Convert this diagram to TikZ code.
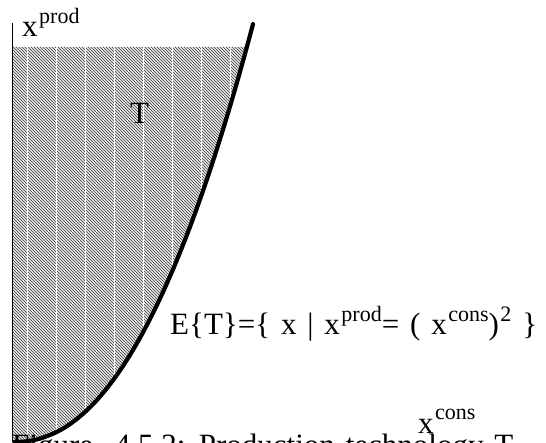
\documentclass[tikz,border=0pt]{standalone}
\usepackage{fontspec}
\setmainfont[WordSpace=1.4]{Liberation Serif}
\newcommand{\supx}[1]{\kern1.5pt\raisebox{0.42em}{\fontsize{22}{22}\selectfont #1}}

\begin{document}
\begin{tikzpicture}[x=1pt, y=1pt,
  lbl/.style={inner sep=0pt, anchor=base west,
              font=\fontsize{31}{37}\selectfont},
  hatch/.style={draw=black!65, line width=1pt},
  seam/.style={draw=white, line width=1pt},
  frontier/.style={line width=4.2pt, line cap=round}
]
\useasboundingbox (0,0) rectangle (546,442);

% Axis
\coordinate (origin) at (12.5,0);
\coordinate (ytop)   at (12.5,419);

% Production set, hatched
\begin{scope}
  \clip (12.5,0) -- (12.5,395) -- (246.9,395)
        -- plot[domain=232.9:0.5, samples=60] ({14+\x},{418*(\x/239)^2.17})
        -- cycle;
  \foreach \i in {-420,-417,...,560}
    \draw[hatch] (\i,420) -- ++(430,-430);
  \foreach \i in {27,56,...,250}
    \draw[seam] (\i,-5) -- (\i,400);
\end{scope}

\draw[line width=1.2pt] (origin) -- (ytop);

% Efficient frontier
\draw[frontier] plot[domain=0.5:239, samples=80] ({14+\x},{418*(\x/239)^2.17});

% Labels
\node[lbl] (xprod)  at (22,405)  {x\supx{prod}};
\node[lbl] (setT)   at (130,318) {T};
\node[lbl] (effset) at (170,107)
  {E\{T\}=\{ x | x\supx{prod}= ( x\supx{cons})\supx{2} \}};
\node[lbl] (xcons)  at (418,9)   {x\supx{cons}};
\node[lbl] (caption) at (12,-13) {Figure~~4.5.2: Production technology T};
\end{tikzpicture}
\end{document}
